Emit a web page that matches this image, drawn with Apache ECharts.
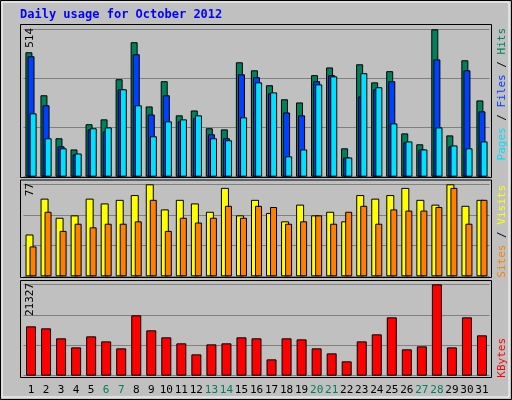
<!DOCTYPE html>
<html><head><meta charset="utf-8">
<script src="https://cdn.jsdelivr.net/npm/echarts@6/dist/echarts.min.js"></script>
<style>html,body{margin:0;padding:0;background:#c0c0c0}#c{width:512px;height:400px}</style>
</head><body><div id="c"></div>
<script>
const days = ['1','2','3','4','5','6','7','8','9','10','11','12','13','14','15','16','17','18','19','20','21','22','23','24','25','26','27','28','29','30','31'];
const weekends = ['6','7','13','14','20','21','27','28'];
const hits  = [434,284,134,95,183,200,340,469,245,333,214,231,169,165,399,371,319,270,259,354,381,99,392,329,368,151,113,514,144,406,266];
const files = [420,249,106,78,165,158,305,427,217,284,193,204,148,134,357,347,291,224,214,333,354,67,280,305,333,120,95,409,106,371,228];
const pages = [221,134,99,81,169,172,305,249,141,193,200,214,134,127,207,329,294,71,95,322,350,67,361,312,186,123,95,172,109,99,123];
const visits= [35,65,49,51,65,61,64,68,77,56,64,61,54,74,51,64,53,46,60,51,54,46,68,65,68,74,64,60,77,59,64];
const sites = [25,54,38,44,41,44,44,46,64,38,49,45,49,59,49,59,58,44,46,51,44,54,59,44,56,55,55,58,74,44,64];
const kbytes= [11520,11050,8720,6610,9180,8010,6380,14090,10590,8950,7550,4980,7310,7550,8950,8720,3810,8720,8480,6380,5210,3350,8010,9650,13620,6150,6850,21327,6610,13620,9420];
const maxHits=514, maxSites=77, maxK=21327;

const chart = echarts.init(document.getElementById('c'));
const mono = 'DejaVu Sans Mono';
const L=23.5, W=466;
const grids=[{left:L,width:W,top:29.3,height:147.4},{left:L,width:W,top:184.3,height:92},{left:L,width:W,top:284.3,height:91.4}];
function xa(i,show){return {type:'category',gridIndex:i,data:days,axisLine:{show:false},axisTick:{show:false},
  axisLabel:{show:show,margin:9,fontFamily:mono,fontSize:11,interval:0,
    formatter:v=>weekends.includes(v)?'{w|'+v+'}':'{n|'+v+'}',
    rich:{w:{color:'#00805c',fontFamily:mono,fontSize:11},n:{color:'#000',fontFamily:mono,fontSize:11}}}};}
function ya(i,max){return {type:'value',gridIndex:i,min:0,max:max,interval:max/3,axisLabel:{show:false},axisLine:{show:false},axisTick:{show:false},
  splitLine:{show:true,lineStyle:{color:'#808080',width:1}}};}
const bs={borderColor:'#000',borderWidth:1};
function bar(name,data,color,gi,w,gap){return {name,type:'bar',data,xAxisIndex:gi,yAxisIndex:gi,barWidth:w,barGap:gap,
  itemStyle:Object.assign({color},bs),animation:false,silent:true};}
function vtext(x,yTop,rich,parts,size){return {type:'text',x:x,y:yTop,rotation:Math.PI/2,z:10,
  style:{text:parts,rich:rich,fontFamily:mono,fontSize:size||11,align:'right',verticalAlign:'middle'}};}
const frames=[[20,24.5,471,153],[20,180,471,97.5],[20,280.5,471,97]].map(r=>({type:'rect',shape:{x:r[0]+0.5,y:r[1],width:r[2],height:r[3]},
  style:{fill:'#c0c0c0',stroke:'#000',lineWidth:1},z:-10}));
chart.setOption({
  backgroundColor:'#c0c0c0',animation:false,
  grid:grids,
  xAxis:[xa(0,false),xa(1,false),xa(2,true)],
  yAxis:[ya(0,maxHits),ya(1,maxSites),ya(2,maxK)],
  series:[
    bar('Hits',hits,'#00805c',0,7,'-70%'),
    bar('Files',files,'#0040ff',0,7,'-70%'),
    bar('Pages',pages,'#00e0ff',0,7,'-70%'),
    bar('Visits',visits,'#ffff00',1,8,'-50%'),
    bar('Sites',sites,'#ff8000',1,7,'-50%'),
    bar('KBytes',kbytes,'#ff0000',2,10,'0%')
  ],
  graphic:[
    {type:'rect',shape:{x:0.5,y:0.5,width:511,height:399},style:{fill:'none',stroke:'#000',lineWidth:1},z:-20},
    {type:'rect',shape:{x:2,y:2,width:507,height:395},style:{fill:'none',stroke:'#fff',lineWidth:1},z:-20},
    ...frames,
    {type:'text',x:20,y:15,style:{text:'Daily usage for October 2012',fill:'#0000ff',fontFamily:mono,fontSize:12,fontWeight:'bold',verticalAlign:'middle'}},
    vtext(9+21,28,{},'514'),
    vtext(9+21,183,{},'77'),
    vtext(9+21,283,{},'21327'),
    vtext(502,28,{p:{fill:'#00e0ff',fontFamily:mono,fontSize:11},s:{fill:'#000',fontFamily:mono,fontSize:11},f:{fill:'#0040ff',fontFamily:mono,fontSize:11},h:{fill:'#00805c',fontFamily:mono,fontSize:11}},
      '{p|Pages}{s| / }{f|Files}{s| / }{h|Hits}'),
    vtext(502,185,{a:{fill:'#ff8000',fontFamily:mono,fontSize:11},s:{fill:'#000',fontFamily:mono,fontSize:11},b:{fill:'#ffff00',fontFamily:mono,fontSize:11}},
      '{a|Sites}{s| / }{b|Visits}'),
    vtext(502,338,{k:{fill:'#ff0000',fontFamily:mono,fontSize:11}},'{k|KBytes}')
  ]
});
</script></body></html>
